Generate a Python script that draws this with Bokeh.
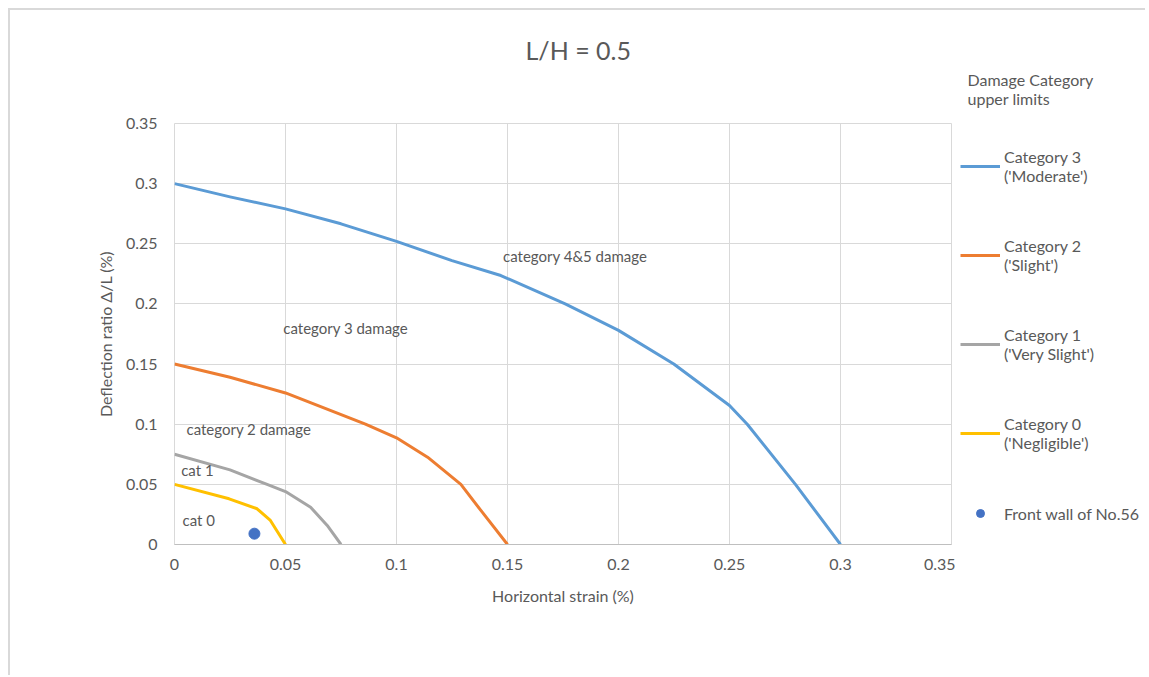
from bokeh.plotting import figure
from bokeh.layouts import row
from bokeh.models import (Range1d, FixedTicker, NumeralTickFormatter, Legend, LegendItem,
                          ColumnDataSource, Title)
from bokeh.core.properties import value
from bokeh.embed import file_html
from bokeh.resources import INLINE

FONT = "Lato"
TXT = "#595959"

# ---- data ----
cat3_x = [0, 0.025, 0.05, 0.075, 0.1, 0.125, 0.147, 0.176, 0.2, 0.2249, 0.25, 0.258, 0.2797, 0.3]
cat3_y = [0.3, 0.289, 0.279, 0.2666, 0.252, 0.236, 0.2236, 0.2, 0.178, 0.150, 0.1156, 0.1, 0.05, 0]

cat2_x = [0, 0.025, 0.05, 0.086, 0.1, 0.114, 0.129, 0.138, 0.15]
cat2_y = [0.15, 0.139, 0.126, 0.1, 0.0887, 0.0726, 0.05, 0.0283, 0]

cat1_x = [0, 0.025, 0.0417, 0.05, 0.0613, 0.0688, 0.075]
cat1_y = [0.075, 0.062, 0.05, 0.044, 0.031, 0.0158, 0]

cat0_x = [0, 0.0246, 0.0372, 0.0432, 0.05]
cat0_y = [0.05, 0.038, 0.0297, 0.02, 0]

point_x = [0.036]
point_y = [0.009]

ann_x = [0.148, 0.049, 0.0054, 0.003, 0.0036]
ann_y = [0.240, 0.1796, 0.0964, 0.0623, 0.020]
ann_text = ["category 4&5 damage", "category 3 damage", "category 2 damage", "cat 1", "cat 0"]

x_ticks = [0, 0.05, 0.1, 0.15, 0.2, 0.25, 0.3, 0.35]
y_ticks = [0, 0.05, 0.1, 0.15, 0.2, 0.25, 0.3, 0.35]

chart_title = "L/H = 0.5"
series_names = ["Category 3\n('Moderate')", "Category 2\n('Slight')",
                "Category 1\n('Very Slight')", "Category 0\n('Negligible')"]
point_name = "Front wall of No.56"
legend_title = "Damage Category\nupper limits"
colors = ["#5B9BD5", "#ED7D31", "#A5A5A5", "#FFC000"]
point_color = "#4472C4"

series = [(cat3_x, cat3_y), (cat2_x, cat2_y), (cat1_x, cat1_y), (cat0_x, cat0_y)]

H = 665

# ---- main chart ----
p = figure(width=945, height=H,
           x_range=Range1d(0, 0.35), y_range=Range1d(0, 0.35),
           output_backend="svg", toolbar_location=None,
           min_border_left=164, min_border_right=4,
           min_border_top=113, min_border_bottom=H - 113 - 421)
p.title.text = ""

# spacer panel between frame and title, then the title itself
p.add_layout(Title(text=" ", text_font_size="1px", standoff=56), "above")
p.add_layout(Title(text=chart_title, align="left", offset=351, vertical_align="bottom",
                   standoff=0, text_font=FONT, text_font_size="25px",
                   text_font_style="normal", text_color=TXT), "above")

p.outline_line_color = "#d9d9d9"
p.background_fill_color = "white"
p.border_fill_color = "white"

for ax, ticks in ((p.xaxis[0], x_ticks), (p.yaxis[0], y_ticks)):
    ax.ticker = FixedTicker(ticks=ticks)
    ax.formatter = NumeralTickFormatter(format="0.[00]")
    ax.major_tick_line_color = None
    ax.minor_tick_line_color = None
    ax.major_tick_out = 0
    ax.major_tick_in = 0
    ax.major_label_text_font = FONT
    ax.major_label_text_font_size = "16px"
    ax.major_label_text_color = TXT
    ax.axis_label_text_font = FONT
    ax.axis_label_text_font_size = "16px"
    ax.axis_label_text_font_style = "normal"
    ax.axis_label_text_color = TXT

p.xaxis.axis_label = "Horizontal strain (%)"
p.yaxis.axis_label = "Deflection ratio \u0394/L (%)"
p.xaxis.axis_line_color = "#bfbfbf"
p.yaxis.axis_line_color = None
p.xaxis.major_label_standoff = 14
p.xaxis.axis_label_standoff = 13
p.yaxis.major_label_standoff = 17
p.yaxis.axis_label_standoff = 8

p.xgrid.grid_line_color = "#d9d9d9"
p.ygrid.grid_line_color = "#d9d9d9"

for (xs, ys), c in zip(series, colors):
    p.line(xs, ys, line_color=c, line_width=3, line_join="round")

p.scatter(point_x, point_y, size=11, fill_color=point_color, line_color=point_color)

ann_src = ColumnDataSource(dict(x=ann_x, y=ann_y, text=ann_text))
p.text(x="x", y="y", text="text", source=ann_src,
       text_font=value(FONT), text_font_size="15px", text_color=TXT,
       text_align="left", text_baseline="middle")

# ---- legend panel (its data lie outside its own view; only the legend shows) ----
q = figure(width=190, height=H, x_range=Range1d(2, 3), y_range=Range1d(2, 3),
           output_backend="svg", toolbar_location=None, min_border=0,
           x_axis_type=None, y_axis_type=None)
q.title.text = ""
q.outline_line_color = None
q.border_fill_color = "white"
q.background_fill_color = "white"
q.add_layout(Title(text=legend_title, align="left", offset=12, vertical_align="bottom",
                   standoff=32, text_font=FONT, text_font_size="16px",
                   text_font_style="normal", text_color=TXT), "above")

items = []
for n, (xs, ys), c in zip(series_names, series, colors):
    r = q.line(xs, ys, line_color=c, line_width=3)
    items.append(LegendItem(label=n, renderers=[r]))
rp = q.scatter(point_x, point_y, size=11, fill_color=point_color, line_color=point_color)
items.append(LegendItem(label=point_name, renderers=[rp]))

legend = Legend(items=items, location=(5, 21),
                label_text_font=FONT, label_text_font_size="16px",
                label_text_color=TXT,
                glyph_width=40, glyph_height=20, label_standoff=4,
                label_height=16, spacing=51, padding=0, margin=0,
                background_fill_alpha=0, border_line_color=None)
q.add_layout(legend)

layout = row(p, q, styles={"margin-left": "8px", "margin-top": "8px",
                           "border-left": "2px solid #d9d9d9",
                           "border-top": "2px solid #d9d9d9"})

open("out.html", "w").write(file_html(layout, INLINE))
